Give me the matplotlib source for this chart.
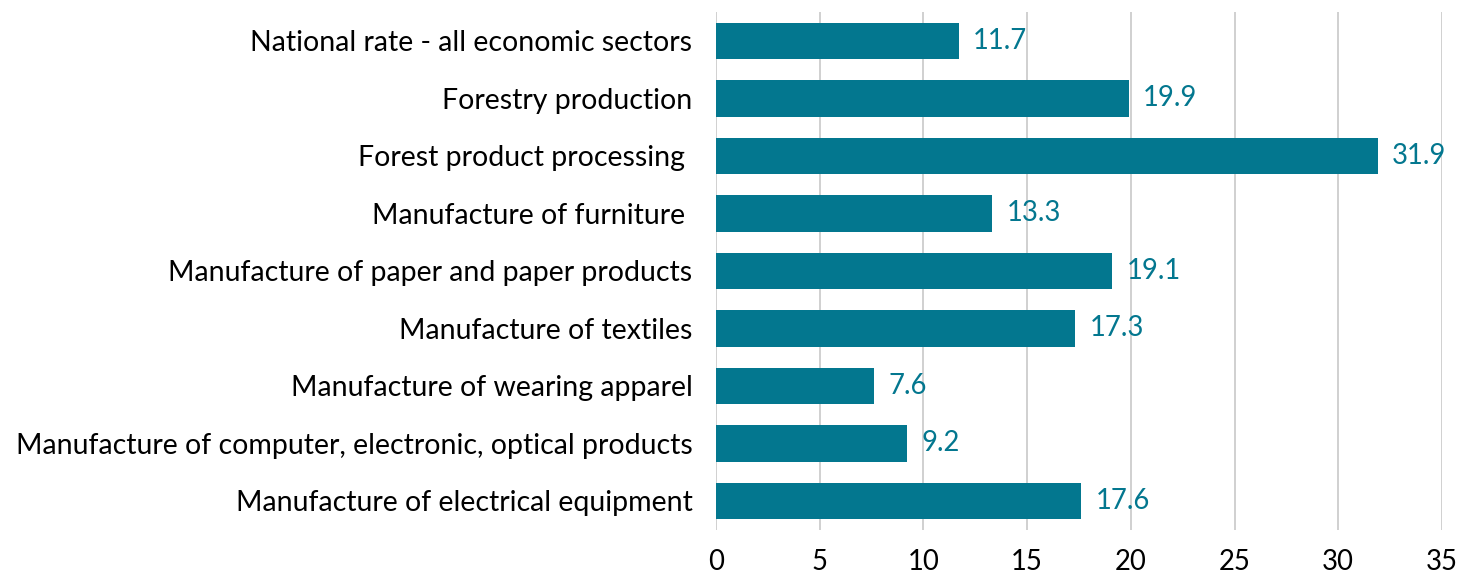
import matplotlib.pyplot as plt

plt.rcParams['font.family'] = ['Lato', 'DejaVu Sans']

sectors = [
    'National rate - all economic sectors',
    'Forestry production',
    'Forest product processing ',
    'Manufacture of furniture ',
    'Manufacture of paper and paper products',
    'Manufacture of textiles',
    'Manufacture of wearing apparel',
    'Manufacture of computer, electronic, optical products',
    'Manufacture of electrical equipment',
]
rates = [11.7, 19.9, 31.9, 13.3, 19.1, 17.3, 7.6, 9.2, 17.6]
x_ticks = [0, 5, 10, 15, 20, 25, 30, 35]

teal = '#03778F'

fig = plt.figure(figsize=(14.63, 5.74), dpi=100)
ax = fig.add_axes([0.4894, 0.0771, 0.4962, 0.9016])

pos = range(len(sectors))
ax.barh(pos, rates, height=0.63, color=teal, zorder=3)
for y, v in zip(pos, rates):
    ax.text(v + 0.7, y, f'{v:.1f}', va='center', ha='left',
            color=teal, fontsize=19.8, zorder=4)

ax.set_yticks(list(pos))
ax.set_yticklabels(sectors, fontsize=20.5)
ax.set_ylim(len(sectors) - 0.5, -0.5)
ax.set_xlim(0, 35)
ax.set_xticks(x_ticks)
ax.set_xticklabels([str(t) for t in x_ticks], fontsize=19.8)
ax.tick_params(length=0)
ax.tick_params(axis='x', pad=14)
ax.tick_params(axis='y', pad=17)

ax.grid(axis='x', color='#C8C8C8', linewidth=1.2, zorder=0)
for s in ['top', 'right', 'bottom', 'left']:
    ax.spines[s].set_visible(False)

fig.savefig('out.png', dpi=100)
